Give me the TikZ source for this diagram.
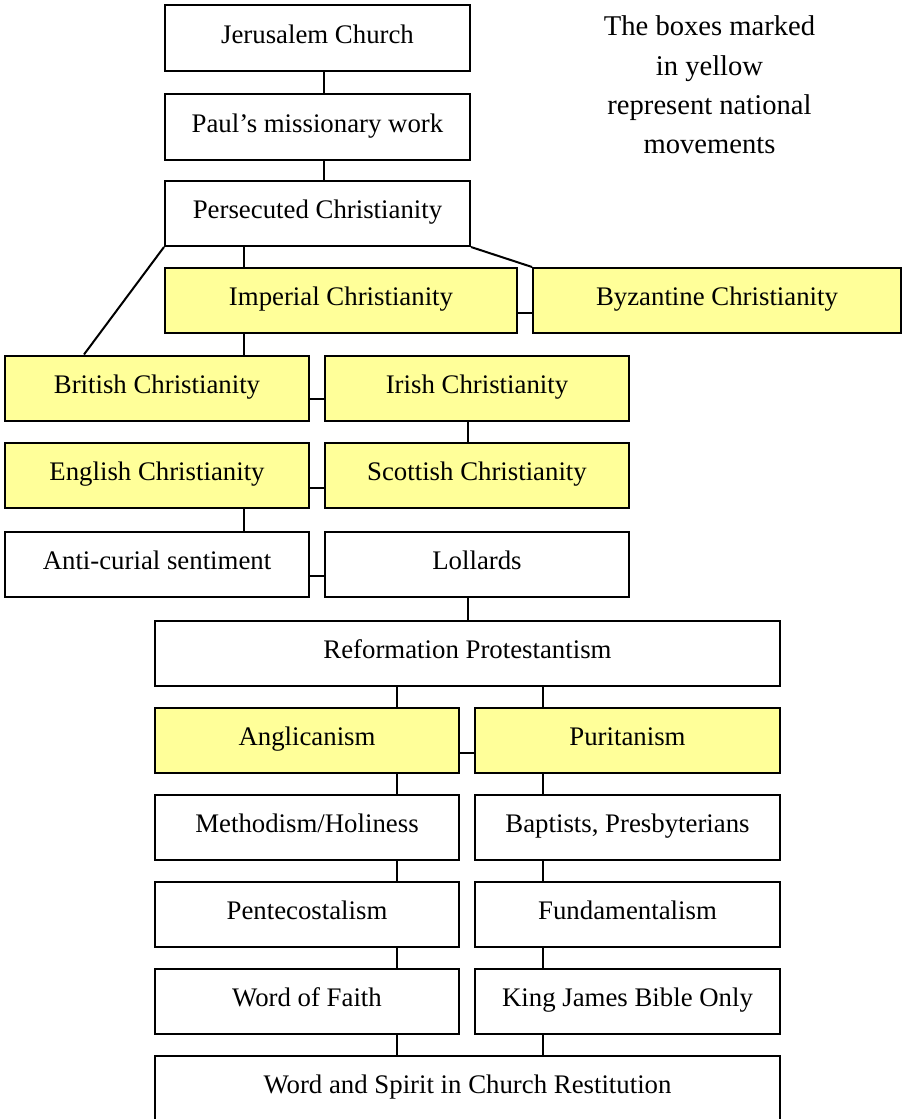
\documentclass[tikz,border=0pt]{standalone}
\usepackage{fontspec}
\setmainfont{Liberation Serif}
\definecolor{natyellow}{HTML}{FFFF99}
\tikzset{
  box/.style={draw=black, line width=2pt, fill=white, rectangle, inner sep=0pt,
    minimum height=65pt, minimum width=304pt, text height=18pt, text depth=8pt,
    font=\fontsize{26.8}{30}\selectfont},
  natbox/.style={box, fill=natyellow},
  link/.style={draw=black, line width=2pt}
}
\begin{document}
\begin{tikzpicture}[x=1pt,y=-1pt]
\useasboundingbox (0,0) rectangle (902,1119);
% nodes
\node[box, minimum width=305pt, minimum height=66pt] (jer) at (317.5,38) {Jerusalem Church};
\node[box, minimum width=305pt, minimum height=66pt] (paul) at (317.5,127) {Paul’s missionary work};
\node[box, minimum width=305pt] (pers) at (317.5,213.5) {Persecuted Christianity};
\node[natbox, minimum width=352pt] (imp) at (341,300.5) {Imperial Christianity};
\node[natbox, minimum width=368pt] (byz) at (717,300.5) {Byzantine Christianity};
\node[natbox] (brit) at (157,388) {British Christianity};
\node[natbox] (irish) at (477,388) {Irish Christianity};
\node[natbox] (eng) at (157,475) {English Christianity};
\node[natbox] (scot) at (477,475) {Scottish Christianity};
\node[box] (anti) at (157,564) {Anti-curial sentiment};
\node[box] (loll) at (477,564) {Lollards};
\node[box, minimum width=625pt] (ref) at (467.5,653.5) {Reformation Protestantism};
\node[natbox] (angl) at (307,740.5) {Anglicanism};
\node[natbox, minimum width=305pt] (purit) at (627.5,740.5) {Puritanism};
\node[box] (meth) at (307,827.5) {Methodism/Holiness};
\node[box, minimum width=305pt] (bapt) at (627.5,827.5) {Baptists, Presbyterians};
\node[box] (pent) at (307,914.5) {Pentecostalism};
\node[box, minimum width=305pt] (fund) at (627.5,914.5) {Fundamentalism};
\node[box] (wof) at (307,1001.5) {Word of Faith};
\node[box, minimum width=305pt] (kjb) at (627.5,1001) {King James Bible Only};
\node[box, minimum width=625pt] (wsr) at (467.5,1088.5) {Word and Spirit in Church Restitution};
% legend
\node[align=center, inner sep=0pt, font=\fontsize{28.6}{39.3}\selectfont] (legend) at (709.5,85)
  {The boxes marked\\in yellow\\represent national\\movements};
% connectors
\draw[link] ([xshift=160pt]jer.south west) -- ([xshift=160pt]paul.north west);
\draw[link] ([xshift=160pt]paul.south west) -- ([xshift=160pt]pers.north west);
\draw[link] ([xshift=80pt]pers.south west) -- ([xshift=80pt]imp.north west);
\draw[link] (pers.south west) -- ([xshift=80pt]brit.north west);
\draw[link] (pers.south east) -- (byz.north west);
\draw[link] ([yshift=-12pt]imp.east) -- ([yshift=-12pt]byz.west);
\draw[link] ([xshift=80pt]imp.south west) -- ([xshift=80pt]imp.south west |- brit.north);
\draw[link] ([yshift=-11pt]brit.east) -- ([yshift=-11pt]irish.west);
\draw[link] ([xshift=144pt]irish.south west) -- ([xshift=144pt]scot.north west);
\draw[link] ([yshift=-13pt]eng.east) -- ([yshift=-13pt]scot.west);
\draw[link] ([xshift=240pt]eng.south west) -- ([xshift=240pt]anti.north west);
\draw[link] ([yshift=-12pt]anti.east) -- ([yshift=-12pt]loll.west);
\draw[link] ([xshift=144pt]loll.south west) -- ([xshift=144pt]loll.south west |- ref.north);
\draw[link] ([xshift=243pt]angl.north west |- ref.south) -- ([xshift=243pt]angl.north west);
\draw[link] ([xshift=69pt]purit.north west |- ref.south) -- ([xshift=69pt]purit.north west);
\draw[link] ([yshift=-12pt]angl.east) -- ([yshift=-12pt]purit.west);
\draw[link] ([xshift=243pt]angl.south west) -- ([xshift=243pt]meth.north west);
\draw[link] ([xshift=69pt]purit.south west) -- ([xshift=69pt]bapt.north west);
\draw[link] ([xshift=243pt]meth.south west) -- ([xshift=243pt]pent.north west);
\draw[link] ([xshift=69pt]bapt.south west) -- ([xshift=69pt]fund.north west);
\draw[link] ([xshift=243pt]pent.south west) -- ([xshift=243pt]wof.north west);
\draw[link] ([xshift=69pt]fund.south west) -- ([xshift=69pt]kjb.north west);
\draw[link] ([xshift=243pt]wof.south west) -- ([xshift=243pt]wof.south west |- wsr.north);
\draw[link] ([xshift=69pt]kjb.south west) -- ([xshift=69pt]kjb.south west |- wsr.north);
\end{tikzpicture}
\end{document}
